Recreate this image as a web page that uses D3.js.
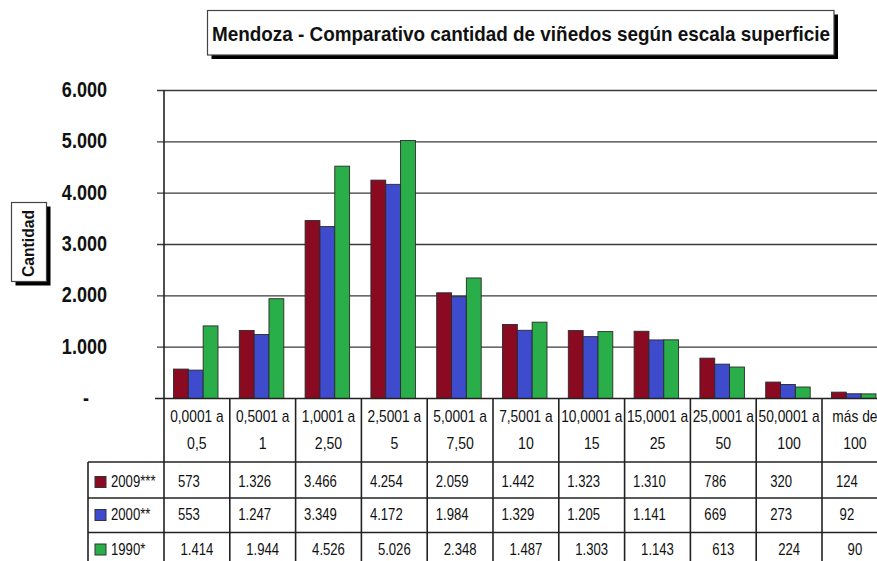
<!DOCTYPE html>
<html>
<head>
<meta charset="utf-8">
<script src="https://cdn.jsdelivr.net/npm/d3@7"></script>
<style>
  body { margin: 0; background: #fff; }
  svg { display: block; font-family: "Liberation Sans", Arial, sans-serif; }
</style>
</head>
<body>
<div id="chart"></div>
<script>
// Datos
var catTop = ["0,0001 a", "0,5001 a", "1,0001 a", "2,5001 a", "5,0001 a", "7,5001 a", "10,0001 a", "15,0001 a", "25,0001 a", "50,0001 a", "más de"];
var catBottom = ["0,5", "1", "2,50", "5", "7,50", "10", "15", "25", "50", "100", "100"];
var seriesNames = ["2009***", "2000**", "1990*"];
var v2009 = [573, 1326, 3466, 4254, 2059, 1442, 1323, 1310, 786, 320, 124];
var v2000 = [553, 1247, 3349, 4172, 1984, 1329, 1205, 1141, 669, 273, 92];
var v1990 = [1414, 1944, 4526, 5026, 2348, 1487, 1303, 1143, 613, 224, 90];
var yTicks = [0, 1000, 2000, 3000, 4000, 5000, 6000];
var colors = ["#8a0a22", "#3d4bcc", "#2aae4a"];

var series = [v2009, v2000, v1990];
var W = 877, H = 561;

var svg = d3.select("#chart").append("svg").attr("width", W).attr("height", H);

var x = d3.scaleBand().domain(d3.range(catTop.length)).range([164, 164 + 65.8 * 11]).padding(0);
var xs = d3.scaleBand().domain(d3.range(3)).range([9.5, 54]).padding(0);
var y = d3.scaleLinear().domain([0, 6000]).range([398.5, 90.5]);

var fmt = function (v) {
  return v === 0 ? "-" : d3.format(",")(v).replace(/,/g, ".");
};

// texto angosto (simula Arial Narrow)
function narrow(parent, px, py, str, k, anchor) {
  return parent.append("g")
    .attr("transform", "translate(" + px + "," + py + ") scale(" + k + ",1)")
    .append("text")
    .attr("text-anchor", anchor || "middle")
    .attr("dominant-baseline", "central")
    .text(str);
}

// Grilla
svg.append("g")
  .selectAll("line")
  .data(yTicks.filter(function (d) { return d > 0; }))
  .enter().append("line")
  .attr("x1", 157).attr("x2", W)
  .attr("y1", function (d) { return y(d); })
  .attr("y2", function (d) { return y(d); })
  .attr("stroke", "#3a3a3a").attr("stroke-width", 1.3);

// Etiquetas eje Y
var yl = svg.append("g").attr("font-weight", "bold").attr("font-size", 22).attr("fill", "#111");
yTicks.forEach(function (t) {
  var tx = t === 0 ? 89 : 107;
  narrow(yl, tx, y(t) - 1, fmt(t), 0.82, "end");
});

// Barras
var groups = svg.append("g").selectAll("g")
  .data(catTop.map(function (c, i) { return i; }))
  .enter().append("g")
  .attr("transform", function (i) { return "translate(" + x(i) + ",0)"; });

groups.selectAll("rect")
  .data(function (i) { return series.map(function (s, k) { return { k: k, v: s[i] }; }); })
  .enter().append("rect")
  .attr("x", function (d) { return xs(d.k); })
  .attr("width", xs.bandwidth())
  .attr("y", function (d) { return y(d.v); })
  .attr("height", function (d) { return y(0) - y(d.v); })
  .attr("fill", function (d) { return colors[d.k]; })
  .attr("stroke", "#2a2a2a").attr("stroke-width", 0.9);

// Tabla
var tbl = svg.append("g").attr("stroke", "#222").attr("stroke-width", 1.6);
var rowY = [398.5, 462, 498, 532.5, 567];
tbl.append("line").attr("x1", 155).attr("x2", W).attr("y1", rowY[0]).attr("y2", rowY[0]);
[1, 2, 3].forEach(function (r) {
  tbl.append("line").attr("x1", 88).attr("x2", W).attr("y1", rowY[r]).attr("y2", rowY[r]);
});
tbl.append("line").attr("x1", 88).attr("x2", 88).attr("y1", rowY[1]).attr("y2", H);
tbl.append("line").attr("x1", 164).attr("x2", 164).attr("y1", 90.5).attr("y2", H);
d3.range(1, catTop.length + 1).forEach(function (i) {
  var cx = x(0) + 65.8 * i;
  tbl.append("line").attr("x1", cx).attr("x2", cx).attr("y1", rowY[0]).attr("y2", H);
});

var tt = svg.append("g").attr("font-size", 16).attr("fill", "#111");
catTop.forEach(function (c, i) {
  var cx = x(i) + x.bandwidth() / 2;
  narrow(tt, cx, 416, c, 0.86);
  narrow(tt, cx, 443.5, catBottom[i], 0.88);
});
var rowMid = [482, 515, 549.5];
var rowShift = [-8, -8, 0];
series.forEach(function (s, k) {
  s.forEach(function (v, i) {
    var cx = x(i) + x.bandwidth() / 2 + rowShift[k];
    narrow(tt, cx, rowMid[k], fmt(v), 0.82);
  });
  svg.append("rect")
    .attr("x", 95).attr("y", rowMid[k] - 5.5)
    .attr("width", 11).attr("height", 11)
    .attr("fill", colors[k]).attr("stroke", "#333").attr("stroke-width", 1);
  narrow(tt, 111, rowMid[k], seriesNames[k], 0.82, "start");
});

// Titulo
svg.append("rect").attr("x", 211.5).attr("y", 14.5).attr("width", 626.5).attr("height", 44.5).attr("fill", "#000");
svg.append("rect").attr("x", 207.5).attr("y", 10.5).attr("width", 626.5).attr("height", 44.5)
  .attr("fill", "#fff").attr("stroke", "#444").attr("stroke-width", 1.2);
svg.append("text")
  .attr("x", 212).attr("y", 40.5)
  .attr("font-size", 21).attr("font-weight", "bold").attr("fill", "#111")
  .attr("textLength", 618).attr("lengthAdjust", "spacingAndGlyphs")
  .text("Mendoza - Comparativo cantidad de viñedos según escala superficie");

// Etiqueta eje Y
svg.append("rect").attr("x", 15.5).attr("y", 206.5).attr("width", 35).attr("height", 79).attr("fill", "#000");
svg.append("rect").attr("x", 11.5).attr("y", 202.5).attr("width", 35).attr("height", 79)
  .attr("fill", "#fff").attr("stroke", "#444").attr("stroke-width", 1.2);
svg.append("text")
  .attr("transform", "translate(34,243.5) rotate(-90)")
  .attr("text-anchor", "middle")
  .attr("font-size", 17).attr("font-weight", "bold").attr("fill", "#111")
  .attr("textLength", 67).attr("lengthAdjust", "spacingAndGlyphs")
  .text("Cantidad");
</script>
</body>
</html>
